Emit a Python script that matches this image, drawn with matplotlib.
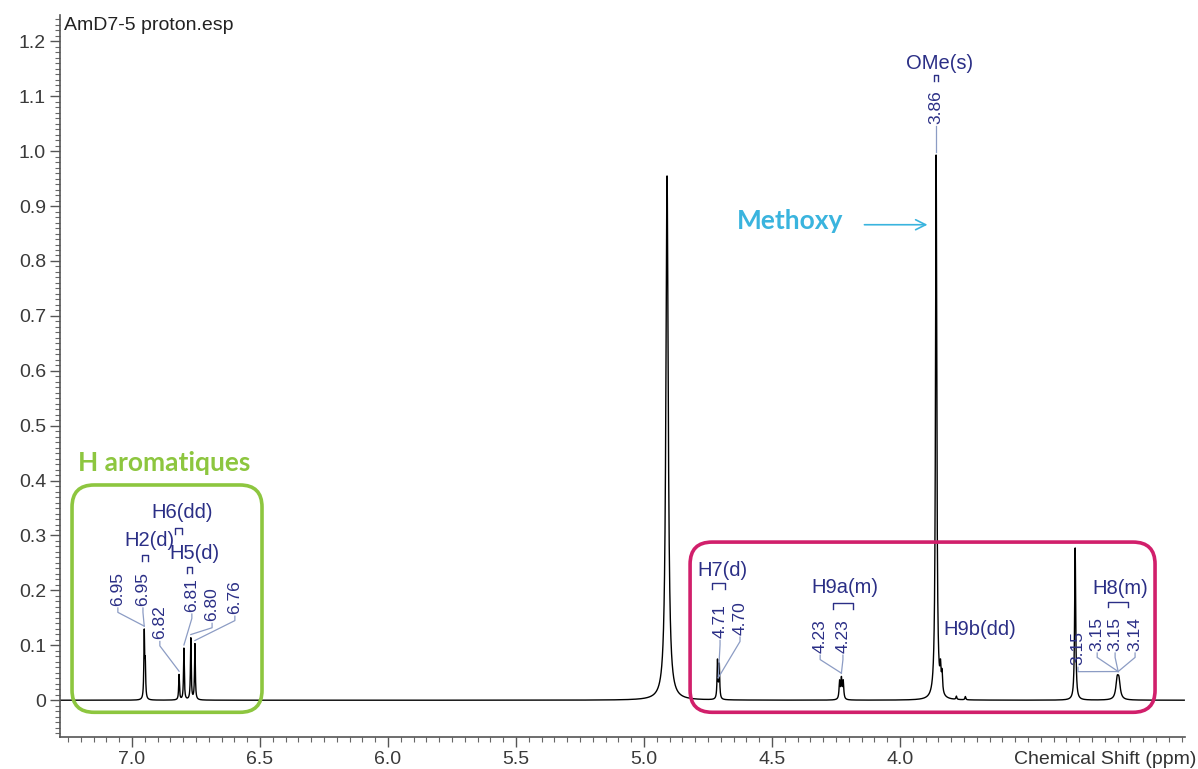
import numpy as np
import matplotlib
matplotlib.use('Agg')
import matplotlib.pyplot as plt
from matplotlib.patches import FancyBboxPatch
from matplotlib.transforms import IdentityTransform
from matplotlib.ticker import MultipleLocator, FixedLocator

plt.rcParams['font.family'] = ['Liberation Sans', 'DejaVu Sans']

# peak list: centre (ppm), height, half width (ppm)
peak_ppm = [6.952, 6.948, 6.816, 6.797, 6.770, 6.754,
            4.910,
            4.713, 4.706,
            4.236, 4.229, 4.222,
            3.859, 3.842, 3.836, 3.780, 3.745,
            3.316,
            3.152, 3.145]
peak_height = [0.120, 0.060, 0.046, 0.094, 0.112, 0.102,
               0.955,
               0.070, 0.062,
               0.032, 0.036, 0.032,
               0.995, 0.040, 0.035, 0.006, 0.006,
               0.278,
               0.032, 0.030]
peak_width = [0.0018, 0.0018, 0.0018, 0.0018, 0.0018, 0.0018,
              0.0055,
              0.0020, 0.0020,
              0.0025, 0.0025, 0.0025,
              0.0030, 0.0025, 0.0025, 0.0020, 0.0020,
              0.0025,
              0.0060, 0.0060]

# shift labels: text, label ppm, label bottom intensity, peak ppm it points to
shift_text = ['6.95', '6.95', '6.82', '6.81', '6.80', '6.76',
              '4.71', '4.70', '4.23', '4.23', '3.86',
              '3.15', '3.15', '3.15', '3.14']
shift_label_ppm = [7.055, 6.957, 6.891, 6.766, 6.687, 6.598,
                   4.703, 4.625, 4.312, 4.223, 3.859,
                   3.305, 3.230, 3.160, 3.082]
shift_label_y = [0.168, 0.168, 0.107, 0.157, 0.140, 0.153,
                 0.109, 0.115, 0.082, 0.082, 1.046,
                 0.060, 0.086, 0.086, 0.086]
shift_peak_ppm = [6.952, 6.952, 6.816, 6.797, 6.770, 6.754,
                  4.710, 4.710, 4.229, 4.229, 3.859,
                  3.148, 3.148, 3.148, 3.148]

# multiplet labels: text, ppm, intensity, bracket span (ppm) and bracket height
group_text = ['H2(d)', 'H6(dd)', 'H5(d)', 'H7(d)', 'H9a(m)', 'OMe(s)', 'H8(m)']
group_ppm = [6.930, 6.805, 6.754, 4.695, 4.215, 3.845, 3.141]
group_y = [0.291, 0.342, 0.268, 0.237, 0.206, 1.160, 0.204]
bracket_from = [6.961, 6.832, 6.785, 4.734, 4.262, 3.866, 3.187]
bracket_to = [6.937, 6.805, 6.765, 4.683, 4.184, 3.852, 3.109]
bracket_y = [0.264, 0.313, 0.242, 0.213, 0.177, 1.138, 0.179]

x_ticks = [7.0, 6.5, 6.0, 5.5, 5.0, 4.5, 4.0]
y_ticks = [0, 0.1, 0.2, 0.3, 0.4, 0.5, 0.6, 0.7, 0.8, 0.9, 1.0, 1.1, 1.2]

navy = '#2b2f86'
lead = '#8c9cc4'

ppm = np.linspace(7.28, 2.89, 12000)
spec = np.zeros_like(ppm)
for c, h, g in zip(peak_ppm, peak_height, peak_width):
    spec += h * g**2 / ((ppm - c)**2 + g**2)

W, H = 1198, 769
fig = plt.figure(figsize=(W / 100, H / 100), dpi=100)
ax = fig.add_axes([60 / W, 1 - 737 / H, (1185 - 60) / W, (737 - 15) / H])
ax.plot(ppm, spec, color='black', lw=1.0)
ax.set_xlim(7.281, 2.887)
ax.set_ylim(-0.067, 1.248)

for s in ['top', 'right']:
    ax.spines[s].set_visible(False)
for s in ['left', 'bottom']:
    ax.spines[s].set_color('#555555')
    ax.spines[s].set_linewidth(1.2)

ax.xaxis.set_major_locator(FixedLocator(x_ticks))
ax.set_xticklabels([f'{v:.1f}' for v in x_ticks])
ax.xaxis.set_minor_locator(MultipleLocator(0.05))
ax.yaxis.set_major_locator(FixedLocator(y_ticks))
ax.set_yticklabels(['0' if v == 0 else f'{v:.1f}' for v in y_ticks])
ax.yaxis.set_minor_locator(MultipleLocator(0.01))
ax.tick_params(which='major', direction='out', length=7, width=1, color='#555555',
               labelsize=14, labelcolor='#3a3a3a', pad=3)
ax.tick_params(which='minor', direction='out', length=3.5, width=0.8, color='#666666')

def spec_at(x):
    return np.interp(x, ppm[::-1], spec[::-1])

# shift labels with leader lines
for t, lx, ly, px in zip(shift_text, shift_label_ppm, shift_label_y, shift_peak_ppm):
    ax.text(lx, ly + 0.004, t, rotation=90, ha='center', va='bottom',
            fontsize=12.5, color=navy)
    top = spec_at(px) + 0.006
    ax.plot([lx, lx, px], [ly, ly - 0.008, top], color=lead, lw=0.9)

# multiplet names with brackets
for t, gx, gy, b0, b1, by in zip(group_text, group_ppm, group_y, bracket_from, bracket_to, bracket_y):
    ax.text(gx, gy, t, ha='center', va='center', fontsize=14.5, color=navy)
    ax.plot([b0, b0, b1, b1], [by - 0.01, by, by, by - 0.01], color=navy, lw=1.0)

ax.text(3.687, 0.128, 'H9b(dd)', ha='center', va='center', fontsize=14.5, color=navy)

# callouts
ax.text(6.875, 0.432, 'H aromatiques', ha='center', va='center', fontsize=19,
        fontweight='bold', family=['Lato', 'DejaVu Sans'], color='#8dc63f')
ax.text(4.43, 0.872, 'Methoxy', ha='center', va='center', fontsize=19,
        fontweight='bold', family=['Lato', 'DejaVu Sans'], color='#3ab4de')
ax.annotate('', xy=(3.882, 0.866), xytext=(4.15, 0.866),
            arrowprops=dict(arrowstyle='->', color='#3ab4de', lw=1.2, mutation_scale=18))

# rounded boxes around the regions (corners in data units)
def region_box(x0, x1, y0, y1, color):
    (ax0, ay0) = ax.transData.transform((x0, y0))
    (ax1, ay1) = ax.transData.transform((x1, y1))
    box = FancyBboxPatch((min(ax0, ax1), min(ay0, ay1)), abs(ax1 - ax0), abs(ay1 - ay0),
                         boxstyle='round,pad=0,rounding_size=22', transform=IdentityTransform(),
                         facecolor='none', edgecolor=color, lw=2.6)
    fig.add_artist(box)

region_box(7.234, 6.492, -0.022, 0.392, '#8dc63f')
region_box(4.820, 3.004, -0.022, 0.288, '#d11f6b')

fig.text(64 / W, 1 - 25 / H, 'AmD7-5 proton.esp', ha='left', va='center',
         fontsize=14, color='#222222')
fig.text(1196 / W, 1 - 760 / H, 'Chemical Shift (ppm)', ha='right', va='center',
         fontsize=14, color='#333333')

fig.savefig('out.png', dpi=100)
